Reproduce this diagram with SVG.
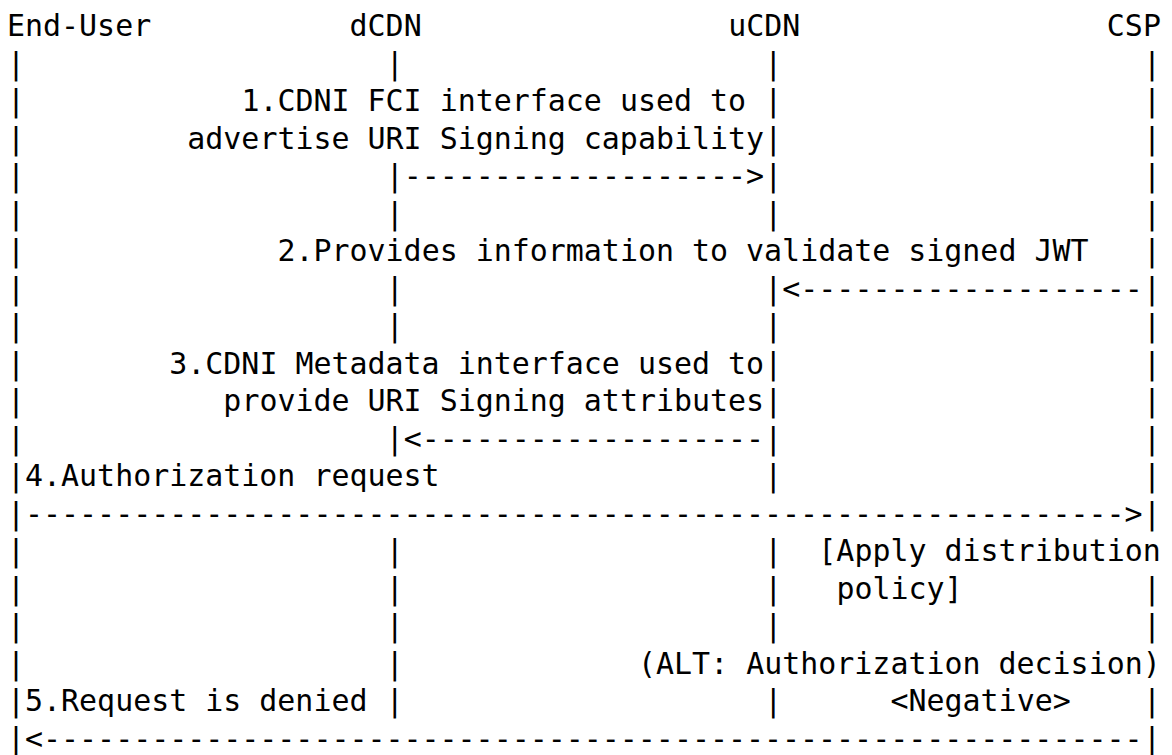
<svg xmlns="http://www.w3.org/2000/svg" width="1172" height="755" viewBox="0 0 1172 755" xml:space="preserve">
<style>
text { font-family: "DejaVu Sans Mono", "Liberation Mono", monospace; font-size: 29.95px; fill: #000; white-space: pre; }
</style>
<rect x="0" y="0" width="1172" height="755" fill="#fff"/>
<g id="end-user">
<text x="7" y="36">End-User</text>
<text><tspan x="7" y="73.5">|</tspan><tspan x="7" y="111">|</tspan><tspan x="7" y="148.5">|</tspan><tspan x="7" y="186">|</tspan><tspan x="7" y="223.5">|</tspan><tspan x="7" y="261">|</tspan><tspan x="7" y="298.5">|</tspan><tspan x="7" y="336">|</tspan><tspan x="7" y="373.5">|</tspan><tspan x="7" y="411">|</tspan><tspan x="7" y="448.5">|</tspan><tspan x="7" y="486">|</tspan><tspan x="7" y="523.5">|</tspan><tspan x="7" y="561">|</tspan><tspan x="7" y="598.5">|</tspan><tspan x="7" y="636">|</tspan><tspan x="7" y="673.5">|</tspan><tspan x="7" y="711">|</tspan><tspan x="7" y="748.5">|</tspan></text>
</g>
<g id="dcdn">
<text x="349.57" y="36">dCDN</text>
<text><tspan x="385.63" y="73.5">|</tspan><tspan x="385.63" y="186">|</tspan><tspan x="385.63" y="223.5">|</tspan><tspan x="385.63" y="298.5">|</tspan><tspan x="385.63" y="336">|</tspan><tspan x="385.63" y="448.5">|</tspan><tspan x="385.63" y="561">|</tspan><tspan x="385.63" y="598.5">|</tspan><tspan x="385.63" y="636">|</tspan><tspan x="385.63" y="673.5">|</tspan><tspan x="385.63" y="711">|</tspan></text>
</g>
<g id="ucdn">
<text x="728.2" y="36">uCDN</text>
<text><tspan x="764.26" y="73.5">|</tspan><tspan x="764.26" y="111">|</tspan><tspan x="764.26" y="148.5">|</tspan><tspan x="764.26" y="186">|</tspan><tspan x="764.26" y="223.5">|</tspan><tspan x="764.26" y="298.5">|</tspan><tspan x="764.26" y="336">|</tspan><tspan x="764.26" y="373.5">|</tspan><tspan x="764.26" y="411">|</tspan><tspan x="764.26" y="448.5">|</tspan><tspan x="764.26" y="486">|</tspan><tspan x="764.26" y="561">|</tspan><tspan x="764.26" y="598.5">|</tspan><tspan x="764.26" y="636">|</tspan><tspan x="764.26" y="711">|</tspan></text>
</g>
<g id="csp">
<text x="1106.83" y="36">CSP</text>
<text><tspan x="1142.89" y="73.5">|</tspan><tspan x="1142.89" y="111">|</tspan><tspan x="1142.89" y="148.5">|</tspan><tspan x="1142.89" y="186">|</tspan><tspan x="1142.89" y="223.5">|</tspan><tspan x="1142.89" y="261">|</tspan><tspan x="1142.89" y="298.5">|</tspan><tspan x="1142.89" y="336">|</tspan><tspan x="1142.89" y="373.5">|</tspan><tspan x="1142.89" y="411">|</tspan><tspan x="1142.89" y="448.5">|</tspan><tspan x="1142.89" y="486">|</tspan><tspan x="1142.89" y="523.5">|</tspan><tspan x="1142.89" y="598.5">|</tspan><tspan x="1142.89" y="636">|</tspan><tspan x="1142.89" y="711">|</tspan><tspan x="1142.89" y="748.5">|</tspan></text>
</g>
<g id="connectors">
<text x="403.66" y="186">-------------------&gt;</text>
<text x="782.29" y="298.5">&lt;-------------------</text>
<text x="403.66" y="448.5">&lt;-------------------</text>
<text x="25.03" y="523.5">-------------------------------------------------------------&gt;</text>
<text x="25.03" y="748.5">&lt;-------------------------------------------------------------</text>
</g>
<g id="labels">
<text x="241.39" y="111">1.CDNI FCI interface used to</text>
<text x="187.3" y="148.5">advertise URI Signing capability</text>
<text x="277.45" y="261">2.Provides information to validate signed JWT</text>
<text x="169.27" y="373.5">3.CDNI Metadata interface used to</text>
<text x="223.36" y="411">provide URI Signing attributes</text>
<text x="25.03" y="486">4.Authorization request</text>
<text x="818.35" y="561">[Apply distribution</text>
<text x="836.38" y="598.5">policy]</text>
<text x="638.05" y="673.5">(ALT: Authorization decision)</text>
<text x="25.03" y="711">5.Request is denied</text>
<text x="890.47" y="711">&lt;Negative&gt;</text>
</g>
</svg>
